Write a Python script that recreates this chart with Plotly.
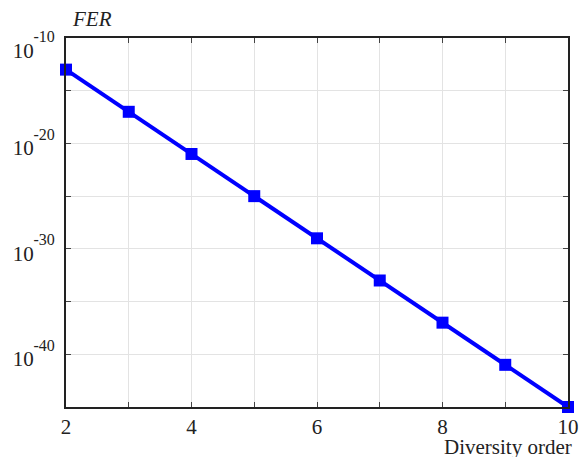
import plotly.graph_objects as go

diversity_order = [2, 3, 4, 5, 6, 7, 8, 9, 10]
fer = [1e-13, 1e-17, 1e-21, 1e-25, 1e-29, 1e-33, 1e-37, 1e-41, 1e-45]

x_tickvals = [2, 3, 4, 5, 6, 7, 8, 9, 10]
x_ticktext = ["2", "", "4", "", "6", "", "8", "", "10"]
y_tickvals = [1e-10, 1e-15, 1e-20, 1e-25, 1e-30, 1e-35, 1e-40, 1e-45]
y_exponents = ["-10", "", "-20", "", "-30", "", "-40", ""]


def pow_label(e, first=False):
    if not e:
        return ""
    s = ("<span style='font-size:16px'>%s</span><br>"
         "<span style='font-size:21px'>10</span>"
         "<span style='font-size:21px'>&nbsp;&nbsp;&nbsp;&nbsp;</span>") % e
    return ("<br>" + s) if first else s


y_ticktext = [pow_label(e, i == 0) for i, e in enumerate(y_exponents)]

fig = go.Figure()
fig.add_trace(go.Scatter(
    x=diversity_order, y=fer, mode="lines+markers",
    line=dict(color="#0000FF", width=4),
    marker=dict(symbol="square", size=12, color="#0000FF"),
    cliponaxis=False, showlegend=False,
))

axis_common = dict(
    showline=True, linecolor="#222222", linewidth=1.5, mirror="ticks",
    ticks="inside", ticklen=5, tickcolor="#444444", tickwidth=1,
    showgrid=True, gridcolor="#E3E3E3", gridwidth=1, zeroline=False,
    automargin=False,
)

fig.update_layout(
    width=580, height=457, autosize=False,
    margin=dict(l=66, r=12, t=38, b=50, autoexpand=False),
    paper_bgcolor="white", plot_bgcolor="white",
    xaxis=dict(range=[2, 10], tickmode="array", tickvals=x_tickvals,
               ticktext=x_ticktext,
               tickfont=dict(family="Liberation Serif", size=21, color="#222222"),
               **axis_common),
    yaxis=dict(type="log", range=[-45, -10], tickmode="array",
               tickvals=y_tickvals, ticktext=y_ticktext, ticklabelstandoff=7,
               tickfont=dict(family="Liberation Serif", size=12, color="#222222"),
               **axis_common),
    annotations=[
        dict(text="<i>FER</i>", xref="paper", yref="paper", x=0.008, y=1.0,
             xanchor="left", yanchor="bottom", yshift=5, showarrow=False,
             font=dict(family="Liberation Serif", size=21, color="#222222")),
        dict(text="Diversity order", xref="paper", yref="paper", x=1.0, y=0,
             xanchor="right", yanchor="top", xshift=6, yshift=-26, showarrow=False,
             font=dict(family="Liberation Serif", size=21, color="#222222")),
    ],
)

fig.write_html("out.html", config={"displayModeBar": False, "responsive": False},
               post_script="document.body.style.margin='0px';")
